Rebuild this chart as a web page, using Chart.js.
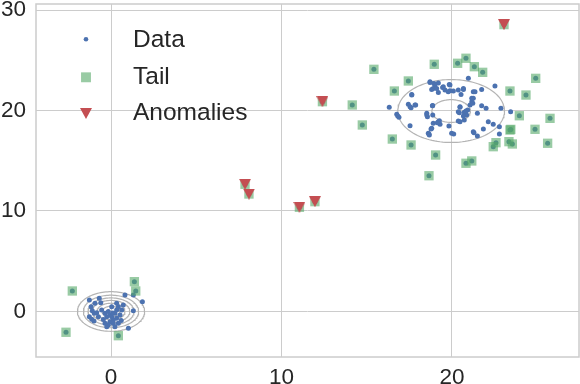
<!DOCTYPE html>
<html>
<head>
<meta charset="utf-8">
<script src="https://cdn.jsdelivr.net/npm/chart.js@4.4.1/dist/chart.umd.min.js"></script>
<style>
  html, body { margin: 0; padding: 0; background: #fff; }
  #wrap { width: 580px; height: 384px; }
</style>
</head>
<body>
<div id="wrap"><canvas id="myChart"></canvas></div>
<script>
// data
const coreSmall = [
    [-1.27, 1.14], [-0.69, 1.31], [-0.6, 0.88], [-1.17, 0.48], [-1.1, 0.08], [-0.98, -0.18],
    [-1.27, -0.52], [-1.13, -0.78], [-0.84, -0.12], [-0.35, -0.18], [-0.16, 0], [-0.06, -0.35],
    [-0.25, -0.52], [0.04, 0.48], [0.33, 0.82], [0.43, 0.48], [0.63, 0.15], [0.53, -0.35],
    [0.33, -0.68], [0.13, -0.85], [-0.06, -1.01], [-0.16, -1.34], [0.13, -1.17], [0.23, -1.51],
    [-0.25, -1.51], [1.02, -1.67], [1.31, 0.08], [0.82, 1.64], [1.31, 1.64], [1.84, 0.98],
    [0.72, 0.65], [-0.55, 0.15], [-0.74, -0.52], [0.04, -0.52], [0.23, -0.18], [0.33, 0.15],
    [-0.35, -1.17], [0.43, -1.17], [-0.94, 0.82], [-0.45, -0.8], [0.6, -0.9], [-1.0, -0.95],
    [0.1, -0.15]
];
const coreBig = [
    [18.71, 22.87], [19.0, 22.54], [18.9, 22.2], [19.2, 21.8], [19.49, 22.37], [19.59, 22.04],
    [19.88, 22.54], [19.78, 21.87], [20.08, 21.94], [20.37, 22.04], [20.67, 22.2], [20.53, 21.6],
    [20.96, 23.2], [17.64, 21.6], [16.32, 20.32], [17.44, 20.62], [17.87, 20.55], [17.6, 20.28],
    [18.85, 20.48], [16.76, 19.62], [16.89, 19.32], [18.52, 19.72], [18.56, 19.38], [17.54, 18.49],
    [18.9, 18.73], [19.2, 18.89], [19.3, 18.63], [18.77, 18.16], [18.65, 17.66], [19.82, 18.46],
    [20.1, 17.66], [20.47, 20.38], [20.37, 19.88], [20.72, 19.82], [20.92, 20.05], [21.06, 20.55],
    [21.16, 20.88], [21.25, 21.87], [20.37, 18.96], [20.72, 19.05], [20.86, 19.55], [21.25, 17.89],
    [22.52, 22.44], [21.74, 22.1], [21.35, 21.87], [21.16, 21.21], [21.22, 20.72], [21.74, 20.48],
    [22.0, 20.22], [22.87, 20.22], [23.44, 19.88], [21.49, 19.72], [22.13, 18.89], [22.42, 18.63],
    [22.78, 18.39], [21.84, 18.16], [22.78, 17.66], [21.29, 17.79], [21.49, 17.46], [18.61, 17.73],
    [18.81, 18.23], [18.71, 22.79], [19.2, 22.75], [19.84, 22.6], [19.88, 21.97], [20.67, 22.1],
    [21.25, 21.21], [20.47, 20.32], [20.43, 19.78], [20.82, 19.95], [20.67, 19.45], [20.47, 18.89],
    [18.87, 19.55], [18.52, 19.55], [18.87, 20.5], [17.54, 20.38], [17.64, 21.54], [17.83, 20.55],
    [16.82, 19.45], [18.67, 17.56], [18.81, 22.1], [19.1, 22.2], [19.45, 22.3], [18.94, 22.7],
    [19.14, 18.79], [19.26, 18.99], [19.98, 17.73]
];
const tailPoints = [
    [-2.27, 2.04], [-2.64, -2.07], [0.43, -2.41], [1.37, 2.97], [1.45, 2.04],
    [15.42, 24.1], [18.96, 24.6], [20.33, 24.7], [20.82, 25.2], [21.31, 24.36], [21.8, 23.8],
    [17.44, 22.94], [16.62, 21.94], [24.91, 23.2], [23.4, 21.94], [24.34, 21.54], [23.95, 19.48],
    [25.75, 19.22], [24.87, 18.13], [25.61, 16.74], [23.4, 18.06], [23.45, 18.12], [23.34, 16.9],
    [23.54, 16.67], [22.58, 16.8], [22.42, 16.4], [14.74, 18.56], [16.5, 17.16], [17.6, 16.57],
    [19.04, 15.57], [21.16, 14.98], [20.82, 14.75], [14.15, 20.55], [18.65, 13.51],
    [23.05, 28.55], [12.4, 20.88], [7.86, 12.66], [8.09, 11.69], [11.05, 10.37], [11.96, 10.93]
];
const anomalyPoints = [
    [23.05, 28.55], [12.4, 20.88], [7.86, 12.66], [8.09, 11.69], [11.05, 10.37], [11.96, 10.93]
];
const contourCenters = [[0, 0], [19.95, 19.95]];
const contourRadii = [[1.97, 1.62, 1.35, 1.1, 0.82, 0.52], [3.13, 1.13]];
const xTicks = [0, 10, 20];
const yTicks = [0, 10, 20, 30];
const labels = ['Data', 'Tail', 'Anomalies'];

const BLUE = '#4C72B0';
const GREEN = 'rgba(85, 168, 104, 0.6)';
const RED = '#C44E52';
const FONT = "'Liberation Sans', Arial, sans-serif";

const toXY = p => ({ x: p[0], y: p[1] });

// matplotlib style 'v' marker
function makeTriangle(w, h, color) {
    const c = document.createElement('canvas');
    c.width = w;
    c.height = h;
    const g = c.getContext('2d');
    g.fillStyle = color;
    g.beginPath();
    g.moveTo(0, 0);
    g.lineTo(w, 0);
    g.lineTo(w / 2, h);
    g.closePath();
    g.fill();
    return c;
}
const triangle = makeTriangle(12, 11, RED);

// contour rings
const contourSets = [];
contourCenters.forEach((c, i) => {
    contourRadii[i].forEach(r => {
        const pts = [];
        for (let k = 0; k <= 120; k++) {
            const t = k / 120 * 2 * Math.PI;
            pts.push({ x: c[0] + r * Math.cos(t), y: c[1] + r * Math.sin(t) });
        }
        contourSets.push({
            data: pts,
            showLine: true,
            borderColor: '#b4b4b4',
            borderWidth: 1.2,
            pointRadius: 0,
            fill: false,
            order: 3,
        });
    });
});

const dataSet = {
    label: labels[0],
    data: coreSmall.concat(coreBig, tailPoints).map(toXY),
    backgroundColor: BLUE,
    borderWidth: 0,
    pointRadius: 2.5,
    order: 2,
};
const tailSet = {
    label: labels[1],
    data: tailPoints.map(toXY),
    pointStyle: 'rect',
    backgroundColor: GREEN,
    borderWidth: 0,
    pointRadius: 6.6,
    order: 1,
};
const anomalySet = {
    label: labels[2],
    data: anomalyPoints.map(toXY),
    pointStyle: triangle,
    backgroundColor: RED,
    borderWidth: 0,
    pointRadius: 6,
    order: 0,
};

// frame round the plot area
const framePlugin = {
    id: 'frame',
    afterDraw(chart) {
        const { ctx, chartArea: a } = chart;
        ctx.save();
        ctx.strokeStyle = '#cccccc';
        ctx.lineWidth = 1.5;
        ctx.strokeRect(a.left, a.top, a.right - a.left, a.bottom - a.top);
        ctx.restore();
    }
};

// legend inside the axes, top left
const legendPlugin = {
    id: 'innerLegend',
    afterDraw(chart) {
        const ctx = chart.ctx;
        const items = [
            { ds: dataSet, y: 39.3, base: 47, radius: 2.3 },
            { ds: tailSet, y: 77.3, base: 83.5, radius: 7 },
            { ds: anomalySet, y: 113.5, base: 120, radius: 6 },
        ];
        ctx.save();
        items.forEach(it => {
            ctx.fillStyle = it.ds.backgroundColor;
            Chart.helpers.drawPoint(ctx, {
                pointStyle: it.ds.pointStyle || 'circle',
                radius: it.radius,
                rotation: 0,
                borderWidth: 0,
            }, 86, it.y);
            ctx.fillStyle = '#262626';
            ctx.font = '24.5px ' + FONT;
            ctx.textAlign = 'left';
            ctx.textBaseline = 'alphabetic';
            ctx.fillText(it.ds.label, 133, it.base);
        });
        ctx.restore();
    }
};

const config = {
    type: 'scatter',
    data: {
        datasets: [anomalySet, tailSet, dataSet].concat(contourSets)
    },
    options: {
        responsive: true,
        maintainAspectRatio: false,
        animation: false,
        layout: { autoPadding: false, padding: { top: 4, right: 1, left: 0, bottom: 0 } },
        plugins: {
            legend: { display: false },
            tooltip: { enabled: false },
        },
        scales: {
            x: {
                type: 'linear',
                min: -4.4,
                max: 27.45,
                afterBuildTicks: s => { s.ticks = xTicks.map(v => ({ value: v })); },
                afterFit: s => {
                    s.height = 27;
                    s.paddingLeft = 0;
                    s.paddingRight = 0;
                    s.paddingTop = 0;
                    s.paddingBottom = 0;
                },
                grid: { color: '#cccccc', lineWidth: 1, drawTicks: false },
                border: { display: false },
                ticks: {
                    padding: 7,
                    color: '#262626',
                    font: { family: FONT, size: 22.5 },
                },
            },
            y: {
                type: 'linear',
                min: -4.53,
                max: 30.6,
                afterBuildTicks: s => { s.ticks = yTicks.map(v => ({ value: v })); },
                afterFit: s => {
                    s.width = 36;
                    s.paddingLeft = 0;
                    s.paddingRight = 0;
                    s.paddingTop = 0;
                    s.paddingBottom = 0;
                },
                grid: { color: '#cccccc', lineWidth: 1, drawTicks: false },
                border: { display: false },
                ticks: {
                    padding: 10,
                    color: '#262626',
                    font: { family: FONT, size: 22.5 },
                },
            },
        },
    },
    plugins: [framePlugin, legendPlugin],
};

const ctx = document.getElementById('myChart');
const myChart = new Chart(ctx, config);
</script>
</body>
</html>
